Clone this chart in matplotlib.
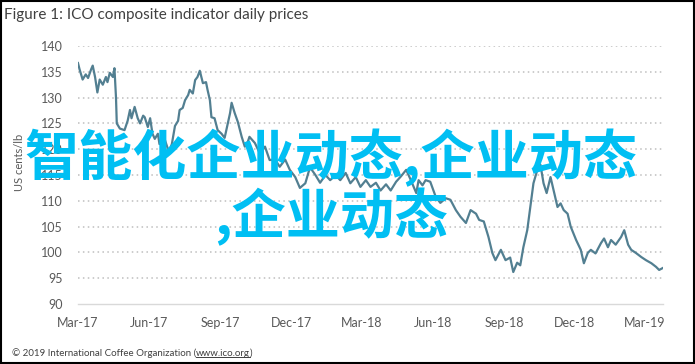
import matplotlib
matplotlib.use("Agg")
import matplotlib.pyplot as plt
import matplotlib.dates as mdates
from matplotlib.patches import Rectangle
from matplotlib.lines import Line2D
import pandas as pd

# ICO composite indicator (US cents/lb)
dates = [
    "2017-03-01", "2017-03-03", "2017-03-07", "2017-03-11", "2017-03-14", "2017-03-18",
    "2017-03-20", "2017-03-23", "2017-03-26", "2017-03-29", "2017-04-02", "2017-04-06",
    "2017-04-08", "2017-04-11", "2017-04-15", "2017-04-17", "2017-04-19", "2017-04-20",
    "2017-04-24", "2017-04-30", "2017-05-04", "2017-05-07", "2017-05-09", "2017-05-13",
    "2017-05-17", "2017-05-20", "2017-05-24", "2017-05-26", "2017-05-30", "2017-06-02",
    "2017-06-05", "2017-06-08", "2017-06-12", "2017-06-14", "2017-06-18", "2017-06-21",
    "2017-06-25", "2017-06-27", "2017-06-30", "2017-07-04", "2017-07-08", "2017-07-10",
    "2017-07-14", "2017-07-17", "2017-07-21", "2017-07-23", "2017-07-27", "2017-07-30",
    "2017-08-02", "2017-08-05", "2017-08-07", "2017-08-09", "2017-08-13", "2017-08-15",
    "2017-08-18", "2017-08-20", "2017-08-24", "2017-08-28", "2017-09-02", "2017-09-06",
    "2017-09-10", "2017-09-13", "2017-09-15", "2017-09-19", "2017-09-23", "2017-09-28",
    "2017-10-02", "2017-10-06", "2017-10-08", "2017-10-15", "2017-10-21", "2017-10-28",
    "2017-11-03", "2017-11-10", "2017-11-16", "2017-11-23", "2017-11-29", "2017-12-06",
    "2017-12-12", "2017-12-19", "2017-12-25", "2018-01-01", "2018-01-07", "2018-01-14",
    "2018-01-20", "2018-01-27", "2018-02-02", "2018-02-09", "2018-02-15", "2018-02-22",
    "2018-02-28", "2018-03-07", "2018-03-13", "2018-03-20", "2018-03-26", "2018-04-02",
    "2018-04-08", "2018-04-15", "2018-04-21", "2018-04-28", "2018-05-04", "2018-05-11",
    "2018-05-14", "2018-05-19", "2018-05-23", "2018-05-29", "2018-06-05", "2018-06-11",
    "2018-06-18", "2018-06-24", "2018-07-01", "2018-07-07", "2018-07-14", "2018-07-20",
    "2018-07-27", "2018-07-31", "2018-08-06", "2018-08-12", "2018-08-17", "2018-08-21",
    "2018-08-28", "2018-09-03", "2018-09-09", "2018-09-13", "2018-09-18", "2018-09-22",
    "2018-09-26", "2018-10-01", "2018-10-05", "2018-10-09", "2018-10-14", "2018-10-18",
    "2018-10-22", "2018-10-26", "2018-10-31", "2018-11-04", "2018-11-09", "2018-11-13",
    "2018-11-17", "2018-11-22", "2018-11-26", "2018-12-03", "2018-12-09", "2018-12-13",
    "2018-12-18", "2018-12-22", "2018-12-28", "2019-01-04", "2019-01-08", "2019-01-13",
    "2019-01-17", "2019-01-23", "2019-01-30", "2019-02-03", "2019-02-08", "2019-02-12",
    "2019-02-18", "2019-02-25", "2019-03-03", "2019-03-10", "2019-03-16", "2019-03-20",
    "2019-03-25",
]
prices = [
    136.7, 135.5, 133.5, 134.5, 133.8, 135.5,
    136.2, 134.0, 131.0, 133.5, 132.5, 134.0,
    133.0, 134.8, 134.0, 135.7, 130.0, 125.0,
    124.0, 123.7, 125.5, 127.6, 126.0, 128.2,
    126.0, 125.0, 126.5, 126.2, 124.3, 126.0,
    123.0, 122.0, 123.0, 121.0, 121.5, 121.8,
    120.0, 119.8, 121.0, 124.5, 125.5, 127.6,
    128.0, 129.5, 130.5, 131.5, 130.8, 133.4,
    134.0, 135.2, 134.0, 132.8, 133.0, 131.5,
    129.5, 126.2, 126.0, 123.7, 123.0, 122.2,
    125.0, 127.0, 129.0, 127.0, 125.3, 122.4,
    120.5, 121.5, 122.4, 121.2, 119.3, 120.5,
    117.9, 118.0, 116.6, 118.0, 116.0, 114.6,
    112.5, 113.4, 116.5, 115.0, 113.5, 115.0,
    114.0, 115.0, 114.0, 115.4, 113.4, 114.6,
    112.7, 114.0, 112.7, 113.5, 112.0, 113.2,
    112.0, 113.7, 114.7, 116.0, 114.0, 111.5,
    114.0, 113.0, 114.0, 113.7, 110.8, 109.6,
    110.5, 110.2, 108.2, 106.9, 105.7, 108.2,
    107.5, 106.3, 106.0, 103.0, 99.9, 98.5,
    100.5, 98.5, 99.0, 96.2, 98.0, 97.5,
    101.0, 104.3, 108.8, 113.4, 116.0, 117.0,
    113.4, 111.5, 114.6, 112.0, 108.8, 109.5,
    108.2, 107.5, 105.0, 102.4, 100.5, 97.9,
    99.9, 100.5, 99.8, 101.8, 102.7, 101.0,
    102.4, 101.5, 103.0, 104.3, 101.5, 100.5,
    99.9, 99.1, 98.5, 97.9, 97.2, 96.6,
    97.0,
]
y_ticks = [90, 95, 100, 105, 110, 115, 120, 125, 130, 135, 140]
x_ticks = ["2017-03-01", "2017-06-01", "2017-09-01", "2017-12-01", "2018-03-01",
           "2018-06-01", "2018-09-01", "2018-12-01", "2019-03-01"]

title = "Figure 1: ICO composite indicator daily prices"
ylabel = "US cents/lb"
footer = "© 2019 International Coffee Organization ("
footer_url = "www.ico.org"
overlay = "智能化企业动态,企业动态\n,企业动态"

plt.rcParams["font.family"] = ["Lato", "DejaVu Sans"]

fig = plt.figure(figsize=(6.95, 3.64), dpi=100)
ax = fig.add_axes([0.1122, 0.1648, 0.8418, 0.7088])

ax.plot(pd.to_datetime(dates), prices, color="#527f91", lw=1.6, zorder=3)

ax.set_ylim(90, 140)
ax.set_yticks(y_ticks)
ax.set_xlim(pd.Timestamp("2017-03-01"), pd.Timestamp("2019-03-25"))
ax.set_xticks(pd.to_datetime(x_ticks))
ax.xaxis.set_major_formatter(mdates.DateFormatter("%b-%y"))

for v in y_ticks[1:]:
    ax.axhline(v, color="#bfbfbf", lw=1.1, ls=(0, (1, 2.2)), zorder=1)

for s in ["top", "right", "left"]:
    ax.spines[s].set_visible(False)
ax.spines["bottom"].set_color("#d9d9d9")
ax.spines["bottom"].set_linewidth(1.0)
ax.tick_params(length=0, labelsize=9, colors="#595959")
ax.tick_params(axis="y", pad=11)
ax.tick_params(axis="x", pad=9)
ax.set_ylabel(ylabel, fontsize=8, color="#595959")
ax.yaxis.set_label_coords(-0.09, 0.55)

fig.text(0.006, 0.958, title, fontsize=11, color="#404040", va="center", ha="left")

# footer with underlined link
renderer = fig.canvas.get_renderer()
t1 = fig.text(0.017, 0.03, footer, fontsize=7, color="#404040", va="center", ha="left")
bb = t1.get_window_extent(renderer)
x2 = bb.x1 / fig.bbox.width
t2 = fig.text(x2, 0.03, footer_url, fontsize=7, color="#404040", va="center", ha="left")
bb2 = t2.get_window_extent(renderer)
x3 = bb2.x1 / fig.bbox.width
fig.text(x3, 0.03, ")", fontsize=7, color="#404040", va="center", ha="left")
yu = (bb2.y0 + 1) / fig.bbox.height
fig.add_artist(Line2D([x2, x3], [yu, yu], transform=fig.transFigure, color="#404040", lw=0.7))

# overlay watermark text
fig.text(0.476, 0.485, overlay, fontsize=39, color="#00bff3", ha="center", va="center",
         multialignment="center", linespacing=1.0, fontweight="bold",
         family=["Noto Sans CJK SC", "DejaVu Sans"], zorder=10)

fig.add_artist(Rectangle((0.001, 0.002), 0.997, 0.995, transform=fig.transFigure,
                         fill=False, edgecolor="black", lw=1.5))

fig.savefig("out.png", dpi=100)
